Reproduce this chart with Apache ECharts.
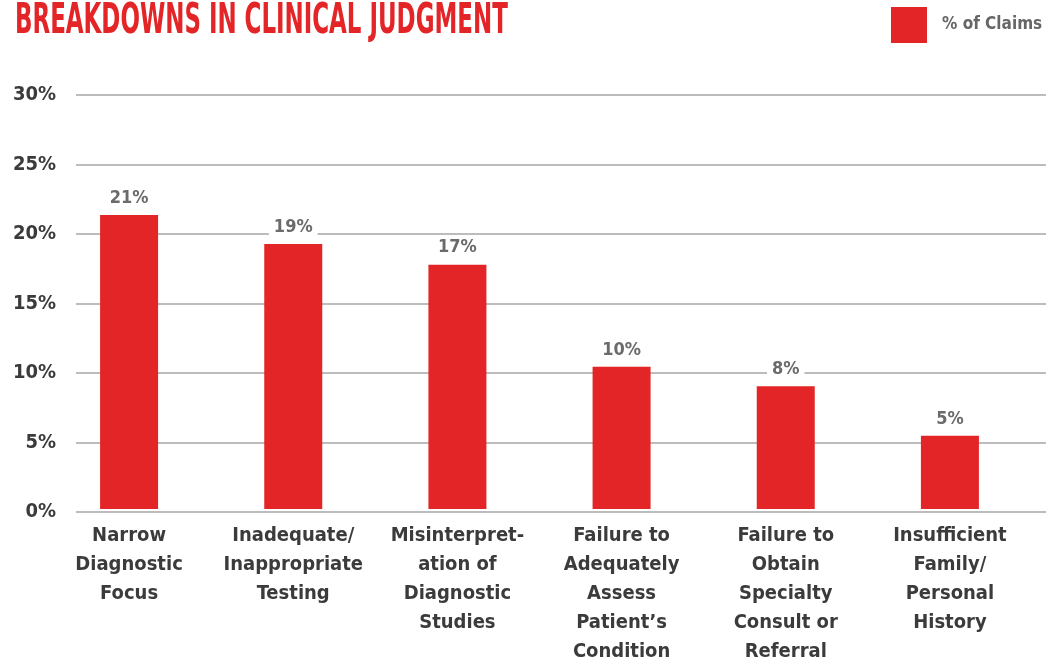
<!DOCTYPE html>
<html>
<head>
<meta charset="utf-8">
<script src="https://cdn.jsdelivr.net/npm/echarts@6/dist/echarts.min.js"></script>
<style>
  html, body { margin: 0; padding: 0; background: #fff; }
  #main { width: 1061px; height: 666px; }
</style>
</head>
<body>
<div id="main"></div>
<script>
// breakdowns in clinical judgment - bar chart
var categories = [
    'Narrow\nDiagnostic\nFocus',
    'Inadequate/\nInappropriate\nTesting',
    'Misinterpret-\nation of\nDiagnostic\nStudies',
    'Failure to\nAdequately\nAssess\nPatient’s\nCondition',
    'Failure to\nObtain\nSpecialty\nConsult or\nReferral',
    'Insufficient\nFamily/\nPersonal\nHistory'
];
var claimValues = [21.3, 19.2, 17.7, 10.3, 8.9, 5.3];
var claimLabels = ['21%', '19%', '17%', '10%', '8%', '5%'];
var yTicks = [0, 5, 10, 15, 20, 25, 30];

var FONT = '"Liberation Sans Narrow", "DejaVu Sans Condensed", sans-serif';
var RED = '#e32528';

var myChart = echarts.init(document.getElementById('main'));
var option = {
    animation: false,
    graphic: [{
        type: 'text',
        left: 15,
        top: 1,
        scaleX: 0.607,
        style: {
            text: 'BREAKDOWNS IN CLINICAL JUDGMENT',
            fill: RED,
            font: 'bold 42px ' + FONT
        }
    }],
    legend: {
        data: ['% of Claims'],
        left: 891,
        top: 7,
        padding: 0,
        icon: 'rect',
        itemWidth: 36,
        itemHeight: 36,
        textStyle: {
            color: '#666',
            fontFamily: FONT,
            fontWeight: 'bold',
            fontSize: 17,
            padding: [0, 0, 0, 10]
        }
    },
    grid: [
        { left: 76, right: 15, top: 95, bottom: 154 },
        { left: 47, right: 29, top: 95, bottom: 154 }
    ],
    xAxis: [{
        gridIndex: 0,
        type: 'category',
        data: categories,
        show: false
    }, {
        gridIndex: 1,
        type: 'category',
        data: categories,
        axisLine: { show: false },
        axisTick: { show: false },
        axisLabel: {
            interval: 0,
            margin: 12,
            color: '#3b3b3b',
            fontFamily: FONT,
            fontWeight: 'bold',
            fontSize: 20,
            lineHeight: 29
        }
    }],
    yAxis: [{
        gridIndex: 0,
        type: 'value',
        min: yTicks[0],
        max: yTicks[yTicks.length - 1],
        interval: 5,
        axisLine: { show: false },
        axisTick: { show: false },
        axisLabel: {
            margin: 20,
            formatter: '{value}%',
            color: '#3b3b3b',
            fontFamily: FONT,
            fontWeight: 'bold',
            fontSize: 20
        },
        splitLine: {
            lineStyle: { color: '#a6a6a6', width: 1.5 }
        }
    }, {
        gridIndex: 1,
        type: 'value',
        min: yTicks[0],
        max: yTicks[yTicks.length - 1],
        interval: 5,
        show: false,
        splitLine: { show: false }
    }],
    series: [{
        name: '% of Claims',
        type: 'bar',
        xAxisIndex: 1,
        yAxisIndex: 1,
        data: claimValues,
        barWidth: 58,
        itemStyle: { color: RED },
        label: {
            show: true,
            position: 'top',
            distance: 8,
            formatter: function (p) { return claimLabels[p.dataIndex]; },
            color: '#6b6b6b',
            fontFamily: FONT,
            fontWeight: 'bold',
            fontSize: 18,
            backgroundColor: '#fff',
            padding: [0, 5]
        }
    }]
};
myChart.setOption(option);
</script>
</body>
</html>
